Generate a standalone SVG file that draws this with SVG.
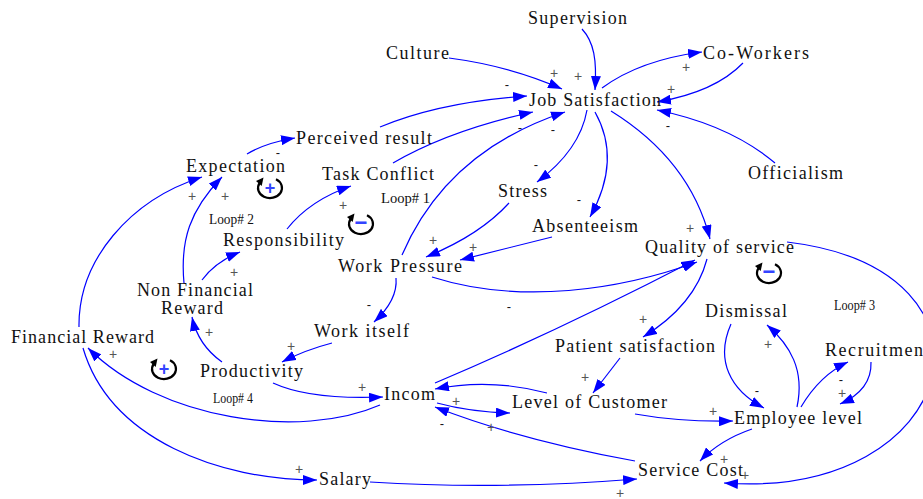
<svg xmlns="http://www.w3.org/2000/svg" width="923" height="499" viewBox="0 0 923 499">
<style>
.n{font-family:"Liberation Serif","Times New Roman",serif;font-size:18px;fill:#111;}
.lp{font-family:"Liberation Serif","Times New Roman",serif;font-size:15px;fill:#111;}
.c{fill:none;stroke:#0000ff;stroke-width:1.2;marker-end:url(#ah);}
.p{font-family:"Liberation Sans",Arial,sans-serif;font-size:14px;fill:#555;text-anchor:middle;}
.m{font-family:"Liberation Sans",Arial,sans-serif;font-size:13px;fill:#111;text-anchor:middle;}
.ls{font-family:"Liberation Sans",Arial,sans-serif;font-weight:bold;fill:#3344ff;text-anchor:middle;}
</style>
<defs>
<marker id="ah" viewBox="0 0 14 10" refX="14" refY="5" markerWidth="14" markerHeight="10" markerUnits="userSpaceOnUse" orient="auto"><path d="M0,0 L14,5 L0,10 z" fill="#0000ff"/></marker>
<g id="loopicon"><path d="M6,-8.66 A12,10 0 1 1 -10.39,-5" fill="none" stroke="#000" stroke-width="2.2"/><path d="M-6.5,-10.5 L-8.3,-2 L-14,-7 z" fill="#000"/></g>
</defs>
<rect width="923" height="499" fill="#fff"/>

<g id="connectors">
<path class="c" d="M582,29 C594,42 597,60 595,90"/>
<path class="c" d="M449,58 Q510,66 562,89"/>
<path class="c" d="M380,127 Q440,102 527,96"/>
<path class="c" d="M393,163 Q450,130 533,112"/>
<path class="c" d="M402,255 C430,190 480,140 565,112"/>
<path class="c" d="M602,88 Q640,60 702,52"/>
<path class="c" d="M743,63 Q715,92 657,102"/>
<path class="c" d="M775,163 Q730,125 657,110"/>
<path class="c" d="M587,110 Q580,150 537,182"/>
<path class="c" d="M595,112 Q622,160 590,217"/>
<path class="c" d="M611,111 Q690,160 710,239"/>
<path class="c" d="M247,154 Q265,143 295,138"/>
<path class="c" d="M79,327 C78,260 130,200 202,177"/>
<path class="c" d="M184,283 C180,240 190,210 222,177"/>
<path class="c" d="M202,280 Q215,262 240,252"/>
<path class="c" d="M287,229 Q310,200 351,186"/>
<path class="c" d="M222,362 Q198,345 192,317"/>
<path class="c" d="M332,343 Q305,350 282,362"/>
<path class="c" d="M273,383 Q310,400 383,397"/>
<path class="c" d="M380,405 C300,440 160,420 88,348"/>
<path class="c" d="M83,348 C110,440 220,480 317,480"/>
<path class="c" d="M370,482 Q500,490 637,479"/>
<path class="c" d="M396,278 Q398,300 374,322"/>
<path class="c" d="M432,277 C520,305 620,290 697,262"/>
<path class="c" d="M435,383 Q560,330 695,260"/>
<path class="c" d="M509,203 Q480,235 426,257"/>
<path class="c" d="M552,237 Q500,250 460,260"/>
<path class="c" d="M707,259 Q695,305 643,337"/>
<path class="c" d="M787,242 C1020,270 960,500 724,483"/>
<path class="c" d="M620,358 L593,393"/>
<path class="c" d="M547,393 Q490,378 435,389"/>
<path class="c" d="M437,403 Q470,412 510,413"/>
<path class="c" d="M635,461 Q520,440 435,407"/>
<path class="c" d="M635,414 Q680,422 733,421"/>
<path class="c" d="M752,429 Q720,440 700,461"/>
<path class="c" d="M731,324 C715,360 730,390 764,408"/>
<path class="c" d="M797,407 C805,370 790,345 767,325"/>
<path class="c" d="M801,407 Q820,375 848,362"/>
<path class="c" d="M871,362 Q872,390 840,404"/>
</g>

<g id="polarities">
<text class="p" x="554" y="78">+</text>
<text class="p" x="578" y="81">+</text>
<text class="p" x="686" y="72">+</text>
<text class="p" x="671" y="94">+</text>
<text class="p" x="690" y="233">+</text>
<text class="p" x="192" y="201">+</text>
<text class="p" x="225" y="201">+</text>
<text class="p" x="234" y="277">+</text>
<text class="p" x="343" y="210">+</text>
<text class="p" x="209" y="337">+</text>
<text class="p" x="291" y="351">+</text>
<text class="p" x="362" y="392">+</text>
<text class="p" x="113" y="359">+</text>
<text class="p" x="299" y="474">+</text>
<text class="p" x="620" y="498" font-size="13">+</text>
<text class="p" x="433" y="245">+</text>
<text class="p" x="473" y="252">+</text>
<text class="p" x="643" y="324">+</text>
<text class="p" x="745" y="480">+</text>
<text class="p" x="585" y="382">+</text>
<text class="p" x="456" y="406">+</text>
<text class="p" x="491" y="432">+</text>
<text class="p" x="713" y="416">+</text>
<text class="p" x="724" y="464">+</text>
<text class="p" x="768" y="349">+</text>
<text class="p" x="842" y="398">+</text>
<text class="m" x="507" y="89">-</text>
<text class="m" x="520" y="132">-</text>
<text class="m" x="553" y="134">-</text>
<text class="m" x="536" y="169">-</text>
<text class="m" x="579" y="204">-</text>
<text class="m" x="668" y="130">-</text>
<text class="m" x="278" y="157">-</text>
<text class="m" x="369" y="309">-</text>
<text class="m" x="509" y="311">-</text>
<text class="m" x="442" y="428">-</text>
<text class="m" x="757" y="395">-</text>
<text class="m" x="841" y="384">-</text>
</g>

<g id="loops">
<g id="loop-icon-2"><use href="#loopicon" transform="translate(270,188)"/><text class="ls" x="270" y="194" font-size="18">+</text></g>
<g id="loop-icon-1"><use href="#loopicon" transform="translate(361,224)"/><text class="ls" x="361" y="230" font-size="22">−</text></g>
<g id="loop-icon-3"><use href="#loopicon" transform="translate(769,273)"/><text class="ls" x="769" y="279" font-size="22">−</text></g>
<g id="loop-icon-4"><use href="#loopicon" transform="translate(164,369)"/><text class="ls" x="164" y="375" font-size="18">+</text></g>
<text class="lp" x="381" y="203" textLength="49" lengthAdjust="spacingAndGlyphs">Loop# 1</text>
<text class="lp" x="209" y="224" textLength="45" lengthAdjust="spacingAndGlyphs">Loop# 2</text>
<text class="lp" x="834" y="310" textLength="41" lengthAdjust="spacingAndGlyphs">Loop# 3</text>
<text class="lp" x="213" y="403" textLength="40" lengthAdjust="spacingAndGlyphs">Loop# 4</text>
</g>

<g id="supervision"><text class="n" x="528" y="24" textLength="99">Supervision</text></g>
<g id="culture"><text class="n" x="386" y="59" textLength="63">Culture</text></g>
<g id="co-workers"><text class="n" x="703" y="59" textLength="106">Co-Workers</text></g>
<g id="job-satisfaction"><text class="n" x="529" y="106" textLength="132">Job Satisfaction</text></g>
<g id="perceived-result"><text class="n" x="296" y="144" textLength="136">Perceived result</text></g>
<g id="expectation"><text class="n" x="186" y="172" textLength="99">Expectation</text></g>
<g id="task-conflict"><text class="n" x="322" y="180" textLength="112">Task Conflict</text></g>
<g id="officialism"><text class="n" x="748" y="179" textLength="95">Officialism</text></g>
<g id="stress"><text class="n" x="498" y="197" textLength="49">Stress</text></g>
<g id="absenteeism"><text class="n" x="532" y="232" textLength="106">Absenteeism</text></g>
<g id="responsibility"><text class="n" x="223" y="246" textLength="121">Responsibility</text></g>
<g id="quality-of-service"><text class="n" x="645" y="253" textLength="149">Quality of service</text></g>
<g id="work-pressure"><text class="n" x="338" y="272" textLength="124">Work Pressure</text></g>
<g id="non-financial-reward"><text class="n" x="137" y="296" textLength="116">Non Financial</text><text class="n" x="161" y="314" textLength="62">Reward</text></g>
<g id="dismissal"><text class="n" x="705" y="317" textLength="82">Dismissal</text></g>
<g id="work-itself"><text class="n" x="314" y="337" textLength="95">Work itself</text></g>
<g id="financial-reward"><text class="n" x="11" y="343" textLength="143">Financial Reward</text></g>
<g id="patient-satisfaction"><text class="n" x="555" y="352" textLength="160">Patient satisfaction</text></g>
<g id="recruitmen"><text class="n" x="825" y="356" textLength="98">Recruitmen</text></g>
<g id="productivity"><text class="n" x="200" y="377" textLength="103">Productivity</text></g>
<g id="incom"><text class="n" x="384" y="400" textLength="51">Incom</text></g>
<g id="level-of-customer"><text class="n" x="512" y="408" textLength="155">Level of Customer</text></g>
<g id="employee-level"><text class="n" x="734" y="424" textLength="128">Employee level</text></g>
<g id="service-cost"><text class="n" x="638" y="476" textLength="105">Service Cost</text></g>
<g id="salary"><text class="n" x="319" y="485" textLength="52">Salary</text></g>
</svg>
